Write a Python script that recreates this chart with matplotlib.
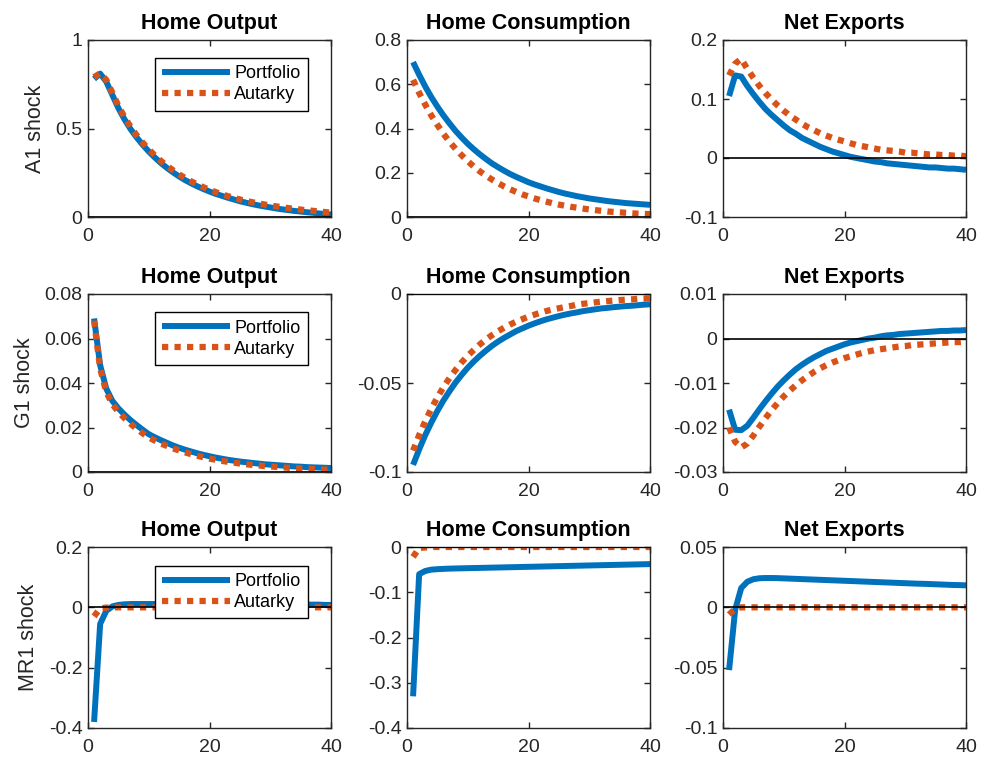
import matplotlib
matplotlib.use("Agg")
import matplotlib.pyplot as plt
from matplotlib.ticker import FuncFormatter

plt.rcParams["font.family"] = ["Liberation Sans", "DejaVu Sans"]

# impulse responses, periods 1..40
periods = list(range(1, 41))

a1_output_portfolio = [0.780, 0.810, 0.765, 0.690, 0.615, 0.552, 0.497, 0.450, 0.408, 0.370,
                       0.336, 0.305, 0.277, 0.252, 0.229, 0.208, 0.190, 0.173, 0.158, 0.144,
                       0.131, 0.120, 0.109, 0.099, 0.089, 0.081, 0.073, 0.066, 0.060, 0.054,
                       0.048, 0.043, 0.039, 0.034, 0.031, 0.027, 0.024, 0.020, 0.017, 0.014]
a1_output_autarky = [0.790, 0.812, 0.775, 0.702, 0.628, 0.565, 0.510, 0.462, 0.420, 0.382,
                     0.348, 0.317, 0.289, 0.264, 0.241, 0.220, 0.201, 0.184, 0.168, 0.154,
                     0.141, 0.129, 0.118, 0.108, 0.099, 0.091, 0.084, 0.077, 0.071, 0.065,
                     0.060, 0.055, 0.050, 0.046, 0.042, 0.038, 0.035, 0.031, 0.028, 0.025]

a1_cons_portfolio = [0.700, 0.643, 0.590, 0.542, 0.499, 0.459, 0.423, 0.389, 0.359, 0.331,
                     0.306, 0.283, 0.262, 0.242, 0.225, 0.209, 0.194, 0.181, 0.169, 0.157,
                     0.147, 0.138, 0.129, 0.121, 0.113, 0.106, 0.100, 0.094, 0.089, 0.084,
                     0.080, 0.076, 0.072, 0.069, 0.066, 0.063, 0.061, 0.059, 0.057, 0.055]
a1_cons_autarky = [0.620, 0.561, 0.508, 0.459, 0.416, 0.376, 0.340, 0.308, 0.279, 0.252,
                   0.228, 0.206, 0.187, 0.169, 0.153, 0.138, 0.125, 0.113, 0.102, 0.093,
                   0.084, 0.076, 0.069, 0.062, 0.056, 0.051, 0.046, 0.042, 0.038, 0.034,
                   0.031, 0.028, 0.025, 0.023, 0.021, 0.019, 0.017, 0.015, 0.014, 0.013]

a1_nx_portfolio = [0.105, 0.140, 0.138, 0.122, 0.108, 0.095, 0.083, 0.073, 0.064, 0.055,
                   0.047, 0.041, 0.034, 0.029, 0.024, 0.019, 0.015, 0.011, 0.008, 0.005,
                   0.002, 0.000, -0.002, -0.004, -0.006, -0.007, -0.009, -0.010, -0.011, -0.012,
                   -0.013, -0.014, -0.015, -0.016, -0.016, -0.017, -0.018, -0.018, -0.019, -0.020]
a1_nx_autarky = [0.140, 0.160, 0.168, 0.151, 0.136, 0.122, 0.110, 0.099, 0.089, 0.080,
                 0.072, 0.065, 0.058, 0.052, 0.047, 0.042, 0.038, 0.034, 0.031, 0.028,
                 0.025, 0.022, 0.020, 0.018, 0.016, 0.014, 0.013, 0.012, 0.011, 0.009,
                 0.009, 0.008, 0.007, 0.006, 0.006, 0.005, 0.005, 0.004, 0.004, 0.003]

g1_output_portfolio = [0.0690, 0.0480, 0.0375, 0.0320, 0.0286, 0.0258, 0.0233, 0.0211, 0.0190, 0.0170,
                       0.0156, 0.0143, 0.0131, 0.0119, 0.0109, 0.0100, 0.0092, 0.0084, 0.0077, 0.0071,
                       0.0065, 0.0060, 0.0055, 0.0051, 0.0047, 0.0044, 0.0041, 0.0038, 0.0035, 0.0033,
                       0.0031, 0.0029, 0.0027, 0.0025, 0.0024, 0.0022, 0.0021, 0.0020, 0.0019, 0.0018]
g1_output_autarky = [0.0680, 0.0465, 0.0360, 0.0305, 0.0270, 0.0242, 0.0217, 0.0194, 0.0174, 0.0155,
                     0.0141, 0.0128, 0.0117, 0.0106, 0.0097, 0.0088, 0.0080, 0.0073, 0.0066, 0.0060,
                     0.0055, 0.0050, 0.0046, 0.0042, 0.0038, 0.0035, 0.0032, 0.0030, 0.0027, 0.0025,
                     0.0023, 0.0021, 0.0019, 0.0018, 0.0016, 0.0015, 0.0014, 0.0012, 0.0011, 0.0010]

g1_cons_portfolio = [-0.0960, -0.0873, -0.0793, -0.0722, -0.0657, -0.0598, -0.0546, -0.0497, -0.0454, -0.0414,
                     -0.0379, -0.0347, -0.0318, -0.0291, -0.0267, -0.0246, -0.0227, -0.0208, -0.0193, -0.0178,
                     -0.0165, -0.0153, -0.0142, -0.0133, -0.0124, -0.0116, -0.0109, -0.0103, -0.0096, -0.0091,
                     -0.0086, -0.0081, -0.0078, -0.0074, -0.0071, -0.0068, -0.0066, -0.0063, -0.0060, -0.0058]
g1_cons_autarky = [-0.0880, -0.0793, -0.0715, -0.0644, -0.0581, -0.0523, -0.0472, -0.0426, -0.0384, -0.0347,
                   -0.0314, -0.0283, -0.0255, -0.0231, -0.0209, -0.0189, -0.0171, -0.0155, -0.0141, -0.0127,
                   -0.0116, -0.0105, -0.0095, -0.0087, -0.0080, -0.0073, -0.0067, -0.0060, -0.0055, -0.0051,
                   -0.0047, -0.0043, -0.0040, -0.0037, -0.0034, -0.0032, -0.0030, -0.0027, -0.0026, -0.0024]

g1_nx_portfolio = [-0.0160, -0.0205, -0.0206, -0.0196, -0.0178, -0.0159, -0.0141, -0.0124, -0.0108, -0.0094,
                   -0.0081, -0.0069, -0.0059, -0.0050, -0.0042, -0.0035, -0.0028, -0.0023, -0.0018, -0.0013,
                   -0.0009, -0.0006, -0.0003, 0.0000, 0.0002, 0.0005, 0.0007, 0.0008, 0.0010, 0.0011,
                   0.0012, 0.0013, 0.0014, 0.0015, 0.0016, 0.0017, 0.0017, 0.0018, 0.0018, 0.0019]
g1_nx_autarky = [-0.0200, -0.0232, -0.0245, -0.0236, -0.0218, -0.0198, -0.0179, -0.0161, -0.0145, -0.0130,
                 -0.0117, -0.0105, -0.0094, -0.0084, -0.0075, -0.0067, -0.0060, -0.0054, -0.0049, -0.0044,
                 -0.0040, -0.0036, -0.0032, -0.0029, -0.0026, -0.0024, -0.0022, -0.0020, -0.0018, -0.0017,
                 -0.0015, -0.0014, -0.0013, -0.0012, -0.0011, -0.0010, -0.0009, -0.0008, -0.0008, -0.0007]

mr1_output_portfolio = [-0.380, -0.055, -0.012, 0.003, 0.008, 0.010, 0.011, 0.011, 0.011, 0.011,
                        0.011, 0.011, 0.011, 0.011, 0.011, 0.011, 0.011, 0.011, 0.011, 0.011,
                        0.010, 0.010, 0.010, 0.010, 0.010, 0.010, 0.010, 0.010, 0.010, 0.010,
                        0.009, 0.009, 0.009, 0.009, 0.009, 0.009, 0.009, 0.009, 0.008, 0.008]
mr1_output_autarky = [-0.030, -0.003, -0.001, 0.000, 0.000, 0.000, 0.000, 0.000, 0.000, 0.000,
                      0.000, 0.000, 0.000, 0.000, 0.000, 0.000, 0.000, 0.000, 0.000, 0.000,
                      0.000, 0.000, 0.000, 0.000, 0.000, 0.000, 0.000, 0.000, 0.000, 0.000,
                      0.000, 0.000, 0.000, 0.000, 0.000, 0.000, 0.000, 0.000, 0.000, 0.000]

mr1_cons_portfolio = [-0.330, -0.060, -0.0530, -0.0500, -0.0490, -0.0483, -0.0478, -0.0474, -0.0471, -0.0468,
                      -0.0465, -0.0462, -0.0459, -0.0456, -0.0453, -0.0450, -0.0447, -0.0444, -0.0441, -0.0438,
                      -0.0435, -0.0432, -0.0429, -0.0426, -0.0423, -0.0420, -0.0417, -0.0414, -0.0411, -0.0408,
                      -0.0405, -0.0402, -0.0399, -0.0396, -0.0393, -0.0390, -0.0387, -0.0384, -0.0381, -0.0378]
mr1_cons_autarky = [-0.022, -0.002, -0.001, 0.000, 0.000, 0.000, 0.000, 0.000, 0.000, 0.000,
                    0.000, 0.000, 0.000, 0.000, 0.000, 0.000, 0.000, 0.000, 0.000, 0.000,
                    0.000, 0.000, 0.000, 0.000, 0.000, 0.000, 0.000, 0.000, 0.000, 0.000,
                    0.000, 0.000, 0.000, 0.000, 0.000, 0.000, 0.000, 0.000, 0.000, 0.000]

mr1_nx_portfolio = [-0.052, -0.002, 0.0160, 0.0212, 0.0233, 0.0241, 0.0243, 0.0243, 0.0242, 0.0240,
                    0.0238, 0.0236, 0.0234, 0.0232, 0.0230, 0.0228, 0.0226, 0.0224, 0.0222, 0.0220,
                    0.0218, 0.0216, 0.0214, 0.0212, 0.0210, 0.0208, 0.0206, 0.0204, 0.0202, 0.0200,
                    0.0198, 0.0196, 0.0195, 0.0193, 0.0191, 0.0189, 0.0187, 0.0185, 0.0184, 0.0182]
mr1_nx_autarky = [-0.006, -0.001, 0.000, 0.000, 0.000, 0.000, 0.000, 0.000, 0.000, 0.000,
                  0.000, 0.000, 0.000, 0.000, 0.000, 0.000, 0.000, 0.000, 0.000, 0.000,
                  0.000, 0.000, 0.000, 0.000, 0.000, 0.000, 0.000, 0.000, 0.000, 0.000,
                  0.000, 0.000, 0.000, 0.000, 0.000, 0.000, 0.000, 0.000, 0.000, 0.000]

titles = ["Home Output", "Home Consumption", "Net Exports"]
shock_labels = ["A1 shock", "G1 shock", "MR1 shock"]
x_ticks = [0, 20, 40]

panels = [
    [(a1_output_portfolio, a1_output_autarky, [0, 0.5, 1]),
     (a1_cons_portfolio, a1_cons_autarky, [0, 0.2, 0.4, 0.6, 0.8]),
     (a1_nx_portfolio, a1_nx_autarky, [-0.1, 0, 0.1, 0.2])],
    [(g1_output_portfolio, g1_output_autarky, [0, 0.02, 0.04, 0.06, 0.08]),
     (g1_cons_portfolio, g1_cons_autarky, [-0.1, -0.05, 0]),
     (g1_nx_portfolio, g1_nx_autarky, [-0.03, -0.02, -0.01, 0, 0.01])],
    [(mr1_output_portfolio, mr1_output_autarky, [-0.4, -0.2, 0, 0.2]),
     (mr1_cons_portfolio, mr1_cons_autarky, [-0.4, -0.3, -0.2, -0.1, 0]),
     (mr1_nx_portfolio, mr1_nx_autarky, [-0.1, -0.05, 0, 0.05])],
]

BLUE = "#0072BD"
RED = "#D95319"
AXC = "#262626"

W, H = 982, 759
col_left = [88, 407, 723]
col_width = 243
rows = [(40, 217), (294, 472), (547, 728)]

fig = plt.figure(figsize=(W / 100, H / 100), dpi=100)
fmt = FuncFormatter(lambda v, p: f"{v:g}")

for i in range(3):
    top, bot = rows[i]
    for j in range(3):
        port, aut, yt = panels[i][j]
        ax = fig.add_axes([col_left[j] / W, (H - bot) / H, col_width / W, (bot - top) / H])
        ax.plot(periods, port, color=BLUE, lw=4.3, solid_capstyle="butt", label="Portfolio")
        ax.plot(periods, aut, color=RED, lw=4.5, linestyle=(0, (1, 1)),
                dash_capstyle="butt", label="Autarky")
        ax.axhline(0, color="k", lw=1.2, zorder=3)
        ax.set_xlim(0, 40)
        ax.set_ylim(yt[0], yt[-1])
        ax.set_xticks(x_ticks)
        ax.set_yticks(yt)
        ax.xaxis.set_major_formatter(fmt)
        ax.yaxis.set_major_formatter(fmt)
        ax.tick_params(direction="in", top=True, right=True, length=4, width=1,
                       color=AXC, labelcolor=AXC, labelsize=14)
        ax.tick_params(axis="x", pad=8)
        ax.tick_params(axis="y", pad=4)
        for s in ax.spines.values():
            s.set_color(AXC)
            s.set_linewidth(1.0)
        ax.set_title(titles[j], fontsize=15.5, fontweight="bold", pad=8)
        if j == 0:
            ax.set_ylabel(shock_labels[i], fontsize=15.5, color=AXC, labelpad=7)
            leg = ax.legend(loc="upper right", bbox_to_anchor=(0.905, 0.897), fontsize=13,
                            fancybox=False, edgecolor="k", framealpha=1, handlelength=3.75,
                            handletextpad=0.25, labelspacing=0.22, borderpad=0.4,
                            borderaxespad=0)
            leg.get_frame().set_linewidth(1.0)

fig.savefig("out.png", dpi=100)
